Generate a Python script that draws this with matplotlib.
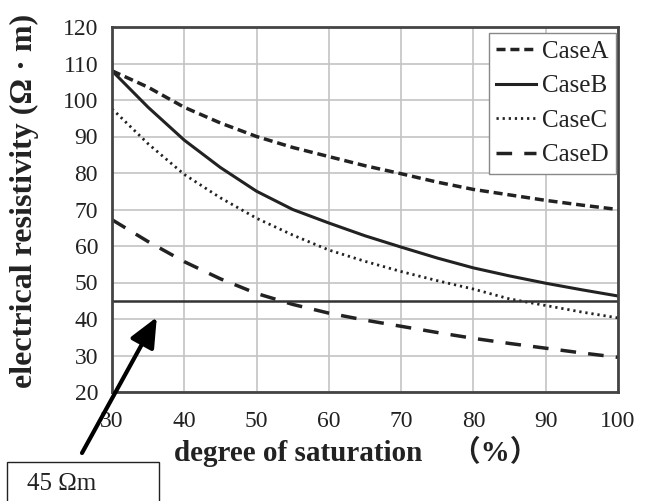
import matplotlib
matplotlib.use("Agg")
import matplotlib.pyplot as plt
from matplotlib.patches import Rectangle

plt.rcParams['font.family'] = ['Liberation Serif', 'Noto Sans CJK JP']

# degree of saturation [%]
saturation = [30, 35, 40, 45, 50, 55, 60, 65, 70, 75, 80, 85, 90, 95, 100]

# electrical resistivity [ohm m]
case_a = [108.0, 103.5, 98.0, 93.7, 90.0, 87.0, 84.5, 82.0, 79.8, 77.5, 75.5, 74.0, 72.5, 71.2, 70.0]
case_b = [108.0, 98.0, 89.0, 81.5, 75.0, 70.0, 66.3, 62.8, 59.7, 56.7, 54.0, 51.8, 49.8, 48.0, 46.3]
case_c = [97.6, 88.0, 79.6, 73.2, 67.6, 63.0, 58.9, 55.8, 53.0, 50.5, 48.2, 45.5, 43.7, 41.9, 40.3]
case_d = [67.2, 61.2, 55.7, 51.0, 47.0, 44.0, 41.6, 39.7, 38.0, 36.3, 34.7, 33.3, 32.0, 30.7, 29.5]
labels = ['CaseA', 'CaseB', 'CaseC', 'CaseD']

threshold = 45  # [ohm m]

fig = plt.figure(figsize=(6.49, 5.01), dpi=100)
ax = fig.add_axes([112 / 649, 1 - 392 / 501, 506 / 649, 365 / 501])

ax.plot(saturation, case_a, color='#222222', lw=2.5, ls=(0, (2.6, 1.4)), label=labels[0])
ax.plot(saturation, case_b, color='#222222', lw=2.2, ls='-', label=labels[1])
ax.plot(saturation, case_c, color='#222222', lw=2.0, ls=(0, (0.8, 1.4)), label=labels[2])
ax.plot(saturation, case_d, color='#222222', lw=2.5, ls=(0, (4.5, 3.5)), label=labels[3])
ax.axhline(threshold, color='#333333', lw=1.8)

ax.set_xlim(30, 100)
ax.set_ylim(20, 120)
ax.set_xticks(range(30, 101, 10))
ax.set_yticks(range(20, 121, 10))
ax.grid(True, color='#c4c4c4', lw=1.2)
ax.set_axisbelow(True)
ax.tick_params(length=0, labelsize=17, colors='#222222')
ax.tick_params(axis='y', pad=10)
ax.tick_params(axis='x', pad=14)
for s in ax.spines.values():
    s.set_color('#444444')
    s.set_linewidth(2)

leg = ax.legend(loc='upper right', bbox_to_anchor=(0.997, 0.984), borderaxespad=0,
                fontsize=18, fancybox=False, edgecolor='#888888', framealpha=1,
                handlelength=1.6, handletextpad=0.25, labelspacing=0.48,
                borderpad=0.3)
leg.get_frame().set_linewidth(1.0)
for t in leg.get_texts():
    t.set_color('#222222')

fig.text(24 / 649, 1 - 201 / 501, 'electrical resistivity (Ω · m)', rotation=90,
         ha='center', va='center', fontsize=23, fontweight='bold', color='#222222')
fig.text(356 / 649, 1 - 451 / 501, 'degree of saturation\u3000（%）',
         ha='center', va='center', fontsize=21, fontweight='bold', color='#222222')

# callout box
fig.patches.append(Rectangle((7 / 649, -0.05), 152 / 649, 0.05 + 1 - 462 / 501,
                             transform=fig.transFigure, facecolor='white',
                             edgecolor='#222222', lw=1.0))
fig.text(27 / 649, 1 - 484 / 501, '45 Ωm', ha='left', va='center', fontsize=18,
         color='#222222')
ax.annotate('', xy=(36.2, 40.5), xycoords='data',
            xytext=(82 / 649, 1 - 453 / 501), textcoords='figure fraction',
            arrowprops=dict(arrowstyle='-|>,head_length=0.9,head_width=0.4',
                            mutation_scale=20, lw=3, color='black',
                            shrinkA=0, shrinkB=0),
            annotation_clip=False)

fig.savefig('out.png', dpi=100)
